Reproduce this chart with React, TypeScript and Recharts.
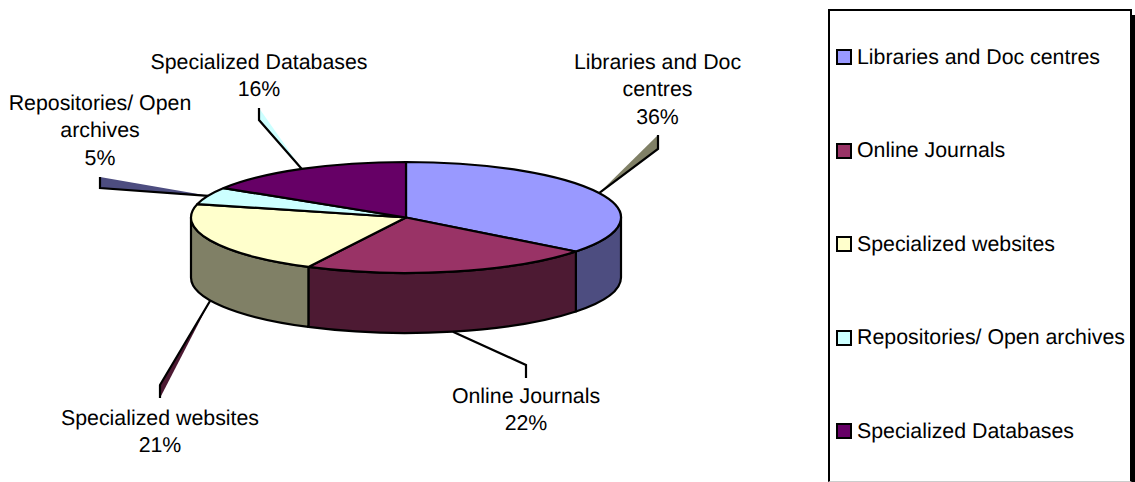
import React from "react";
import { PieChart, Pie, Legend } from "recharts";

const categories = [
  "Libraries and Doc centres",
  "Online Journals",
  "Specialized websites",
  "Repositories/ Open archives",
  "Specialized Databases",
];
const shares = [35.5, 22, 21.4, 5, 16.1];
const topColors = ["#9999FF", "#993366", "#FFFFCC", "#CCFFFF", "#660066"];
const wallColors = ["#4D4D80", "#4D1A33", "#808066", "#668080", "#330033"];
const labelLines = [
  ["Libraries and Doc", "centres"],
  ["Online Journals"],
  ["Specialized websites"],
  ["Repositories/ Open", "archives"],
  ["Specialized Databases"],
];

const FONT = "'Liberation Sans', Arial, sans-serif";
const FONT_SIZE = 21.33;
const CX = 406;
const CY = 217.5;
const RX = 215;
const RY = 55.5;
const DEPTH = 60;
const LINE = 2.2;

// Leader layout per slice: elbow, end, shadow fill, label centre, first line centre
const leaders = [
  { ex: 658, ey: 149, tx: 658, ty: 135, shade: "#808066", lx: 657.5, ly: 62 },
  { ex: 526, ey: 365, tx: 526, ty: 378, shade: "none", lx: 526, ly: 396 },
  { ex: 160, ey: 385, tx: 160, ty: 398, shade: "#4D1A33", lx: 160, ly: 418 },
  { ex: 100, ey: 188, tx: 100, ty: 177, shade: "#4D4D80", lx: 100, ly: 103 },
  { ex: 259, ey: 120, tx: 259, ty: 108, shade: "#CCFFFF", lx: 259, ly: 62 },
];

const table = categories.map((name, i) => ({
  name,
  value: shares[i],
  fill: topColors[i],
  wall: wallColors[i],
}));

const rad = (d: number) => (d * Math.PI) / 180;
const ex = (d: number) => CX + RX * Math.cos(rad(d));
const ey = (d: number) => CY - RY * Math.sin(rad(d));

function TopFace(props: any) {
  const { startAngle, endAngle, fill } = props;
  const large = Math.abs(endAngle - startAngle) > 180 ? 1 : 0;
  const d = `M${CX},${CY} L${ex(startAngle)},${ey(startAngle)} A${RX},${RY} 0 ${large} 1 ${ex(endAngle)},${ey(endAngle)} Z`;
  return <path d={d} fill={fill} stroke="#000" strokeWidth={LINE} strokeLinejoin="round" />;
}

function Wall(props: any) {
  const { startAngle, endAngle, payload } = props;
  // Recharts angles run clockwise from 90 to -270; the front half is -180..0.
  const a = Math.min(startAngle, 0);
  const b = Math.max(endAngle, -180);
  if (a <= b) return <g />;
  const d = `M${ex(a)},${ey(a)} A${RX},${RY} 0 0 1 ${ex(b)},${ey(b)} L${ex(b)},${ey(b) + DEPTH} A${RX},${RY} 0 0 0 ${ex(a)},${ey(a) + DEPTH} Z`;
  return <path d={d} fill={payload?.wall ?? props.wall} stroke="#000" strokeWidth={LINE} strokeLinejoin="round" />;
}

function SliceLabel(props: any) {
  const { index, midAngle, value } = props;
  const l = leaders[index];
  const front = Math.sin(rad(midAngle)) < 0;
  const sx = ex(midAngle);
  const sy = ey(midAngle) + (front ? DEPTH : 0);
  const lines = [...labelLines[index], `${Math.round(value)}%`];
  return (
    <g>
      <polygon points={`${sx},${sy} ${l.ex},${l.ey} ${l.tx},${l.ty}`} fill={l.shade} stroke="none" />
      <polyline points={`${sx},${sy} ${l.ex},${l.ey} ${l.tx},${l.ty}`} fill="none" stroke="#000" strokeWidth={LINE} />
      <text textAnchor="middle" fontFamily={FONT} fontSize={FONT_SIZE} fill="#000" textRendering="geometricPrecision">
        {lines.map((t, i) => (
          <tspan key={i} x={l.lx} y={l.ly + 7 + i * 27.3}>{t}</tspan>
        ))}
      </text>
    </g>
  );
}

function LegendBox(props: any) {
  const seen = new Set<string>();
  const items = ((props.payload ?? []) as any[]).filter((it) => {
    if (seen.has(it.value)) return false;
    seen.add(it.value);
    return true;
  });
  return (
    <div style={{ position: "relative", width: "100%", height: "100%" }}>
      {items.map((it, i) => (
        <div key={i} style={{ position: "absolute", left: 6, top: 33 + i * 93.6, height: 26, display: "flex", alignItems: "center", whiteSpace: "nowrap" }}>
          <span style={{ display: "inline-block", width: 12, height: 12, border: "2px solid #000", background: it.color, marginRight: 5 }} />
          <span style={{ fontFamily: FONT, fontSize: FONT_SIZE, color: "#000", textRendering: "geometricPrecision" }}>{it.value}</span>
        </div>
      ))}
    </div>
  );
}

export default function App() {
  return (
    <div style={{ position: "absolute", left: 0, top: 0, width: 1135, height: 482, overflow: "hidden", background: "#fff" }}>
      <PieChart width={1135} height={482} margin={{ top: 0, right: 0, bottom: 0, left: 0 }}>
        <Pie
          data={table}
          dataKey="value"
          nameKey="name"
          cx={CX}
          cy={CY}
          outerRadius={RX}
          startAngle={90}
          endAngle={-270}
          stroke="none"
          legendType="none"
          isAnimationActive={false}
          shape={Wall}
        />
        <Pie
          data={table}
          dataKey="value"
          nameKey="name"
          cx={CX}
          cy={CY}
          outerRadius={RX}
          startAngle={90}
          endAngle={-270}
          isAnimationActive={false}
          shape={TopFace}
          label={SliceLabel}
          labelLine={false}
        />
        <Legend
          content={LegendBox}
          itemSorter={null}
          wrapperStyle={{
            position: "absolute",
            left: 828,
            top: 9,
            width: 304,
            height: 473,
            boxSizing: "border-box",
            borderTop: "2.5px solid #000",
            borderLeft: "2.5px solid #000",
            borderRight: "2px solid #000",
            borderBottom: "1px solid #ccc",
            background: "#fff",
            boxShadow: "3px 6px 0 #000",
          }}
        />
      </PieChart>
    </div>
  );
}
